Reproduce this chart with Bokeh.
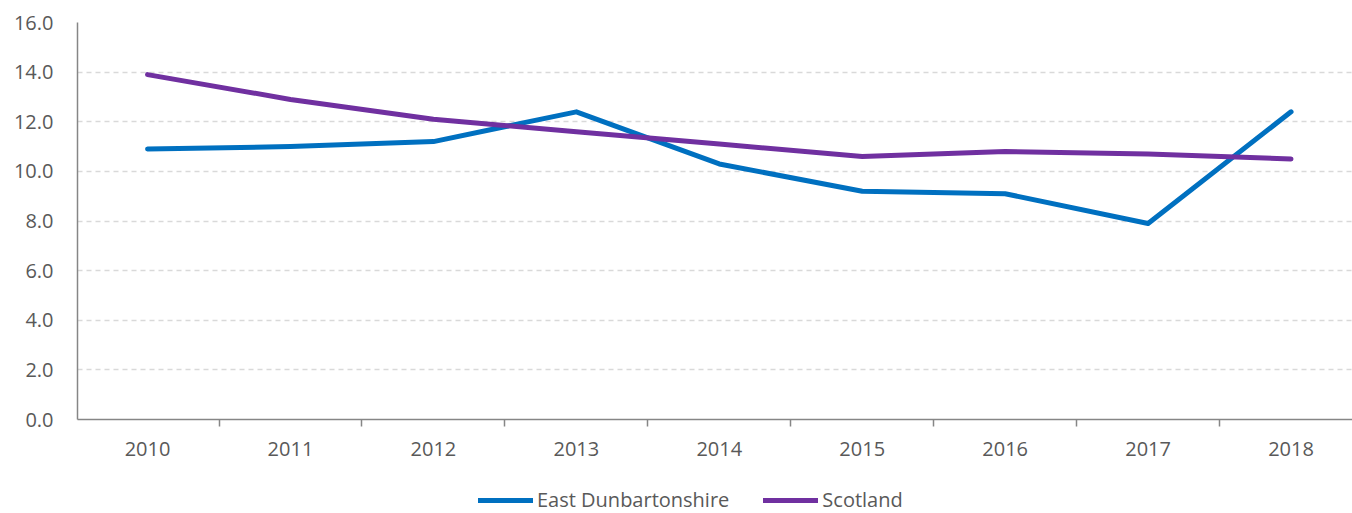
from bokeh.plotting import figure
from bokeh.layouts import column
from bokeh.models import FixedTicker, NumeralTickFormatter, Range1d, Legend, LegendItem
from bokeh.embed import file_html
from bokeh.resources import INLINE

years = [2010, 2011, 2012, 2013, 2014, 2015, 2016, 2017, 2018]
east_dunbartonshire = [10.9, 11.0, 11.2, 12.4, 10.3, 9.2, 9.1, 7.9, 12.4]
scotland = [13.9, 12.9, 12.1, 11.6, 11.1, 10.6, 10.8, 10.7, 10.5]
y_ticks = [0, 2, 4, 6, 8, 10, 12, 14, 16]

FONT = "Open Sans"
GREY = "#595959"
BLUE = "#0070C0"
PURPLE = "#7030A0"

p = figure(width=1352, height=467, output_backend="svg", toolbar_location=None,
           x_range=Range1d(2009.51, 2018.43), y_range=Range1d(0, 16),
           min_border_left=77, min_border_right=0, min_border_top=22, min_border_bottom=48)
p.outline_line_color = None
p.background_fill_color = "white"

p.line(years, east_dunbartonshire, line_color=BLUE, line_width=5, line_cap="round", line_join="round")
p.line(years, scotland, line_color=PURPLE, line_width=5, line_cap="round", line_join="round")

# x axis
xa = p.xaxis[0]
xa.ticker = FixedTicker(ticks=years, minor_ticks=[y - 0.5 for y in years] + [years[-1] + 0.5])
xa.major_tick_line_color = None
xa.major_tick_out = 0
xa.major_tick_in = 0
xa.minor_tick_out = 7
xa.minor_tick_in = 0
xa.minor_tick_line_color = "#868686"
xa.minor_tick_line_width = 1.5
xa.axis_line_color = "#868686"
xa.axis_line_width = 1.5
xa.major_label_text_font = FONT
xa.major_label_text_font_size = "20px"
xa.major_label_text_color = GREY
xa.major_label_standoff = 15

# y axis
ya = p.yaxis[0]
ya.ticker = FixedTicker(ticks=y_ticks)
ya.formatter = NumeralTickFormatter(format="0.0")
ya.major_tick_line_color = None
ya.major_tick_out = 0
ya.major_tick_in = 0
ya.minor_tick_line_color = None
ya.axis_line_color = "#868686"
ya.axis_line_width = 1.5
ya.major_label_text_font = FONT
ya.major_label_text_font_size = "20px"
ya.major_label_text_color = GREY
ya.major_label_standoff = 24

p.xgrid.grid_line_color = None
p.ygrid.grid_line_color = "#d9d9d9"
p.ygrid.grid_line_dash = "5 4"
p.ygrid.grid_line_width = 1.5

# legend strip (series drawn outside its view so only the legend shows)
lg = figure(width=1352, height=46, output_backend="svg", toolbar_location=None,
            x_range=Range1d(0, 1), y_range=Range1d(0, 1),
            min_border_left=0, min_border_right=0, min_border_top=0, min_border_bottom=0,
            x_axis_location=None, y_axis_location=None)
lg.outline_line_color = None
lg.grid.visible = False
l1 = lg.line(years, east_dunbartonshire, line_color=BLUE, line_width=5, line_cap="round")
l2 = lg.line(years, scotland, line_color=PURPLE, line_width=5, line_cap="round")

legend = Legend(items=[LegendItem(label="East Dunbartonshire", renderers=[l1]),
                       LegendItem(label="Scotland", renderers=[l2])],
                orientation="horizontal", location=(401, 0),
                label_text_font=FONT, label_text_font_size="20px", label_text_color=GREY,
                glyph_width=55, label_standoff=4, spacing=34,
                background_fill_alpha=0, border_line_color=None, margin=0, padding=1)
lg.add_layout(legend, "center")

open("out.html", "w").write(file_html(column(p, lg, spacing=0), INLINE))
